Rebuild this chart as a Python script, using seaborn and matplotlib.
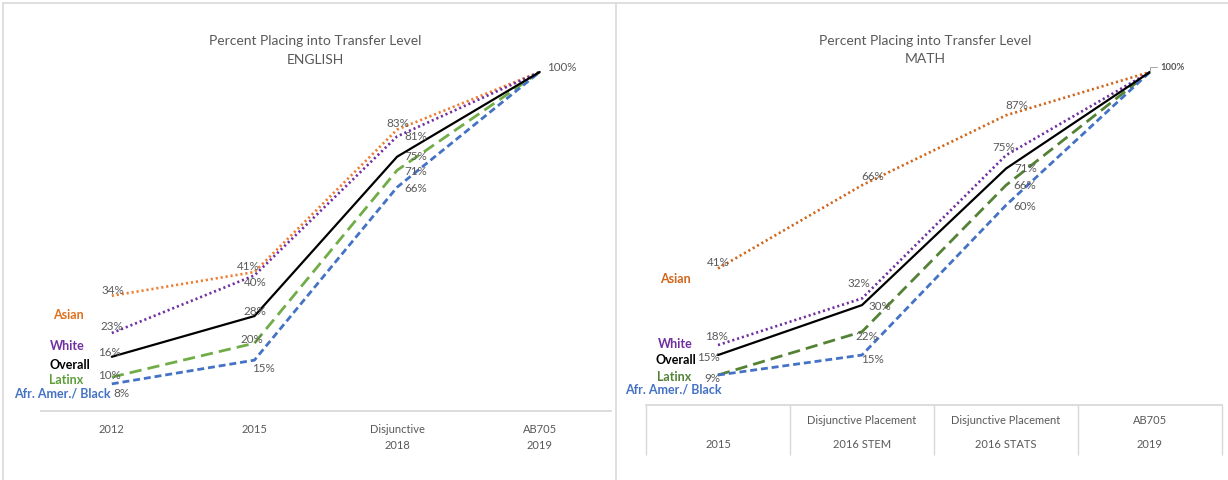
import matplotlib
matplotlib.use("Agg")
import matplotlib.pyplot as plt
from matplotlib.transforms import blended_transform_factory
import seaborn as sns
import pandas as pd

# ---------------- data ----------------
groups = ["Asian", "White", "Overall", "Latinx", "Afr. Amer./ Black"]

english_stages = ["2012", "2015", "Disjunctive\n2018", "AB705\n2019"]
english_asian = [34, 41, 83, 100]
english_white = [23, 40, 81, 100]
english_overall = [16, 28, 75, 100]
english_latinx = [10, 20, 71, 100]
english_black = [8, 15, 66, 100]

math_stages = ["\n2015", "Disjunctive Placement\n2016 STEM",
               "Disjunctive Placement\n2016 STATS", "AB705\n2019"]
math_asian = [41, 66, 87, 100]
math_white = [18, 32, 75, 100]
math_overall = [15, 30, 71, 100]
math_latinx = [9, 22, 66, 100]
math_black = [9, 15, 60, 100]

# ---------------- styling ----------------
W, H = 1228, 480
GRAY_TXT = "#595959"
GRID = "#D9D9D9"
FONT = ["Lato", "DejaVu Sans"]

sns.set_theme(style="white")
plt.rcParams["font.family"] = FONT

left_colors = {"Asian": "#ED7D31", "White": "#7030A0", "Overall": "#000000",
               "Latinx": "#70AD47", "Afr. Amer./ Black": "#4472C4"}
right_colors = {"Asian": "#D0661C", "White": "#7030A0", "Overall": "#000000",
                "Latinx": "#548235", "Afr. Amer./ Black": "#4472C4"}
left_label_colors = {"Asian": "#E0701E", "White": "#7030A0", "Overall": "#000000",
                     "Latinx": "#5E9E3A", "Afr. Amer./ Black": "#4472C4"}
right_label_colors = {"Asian": "#D0661C", "White": "#7030A0", "Overall": "#000000",
                      "Latinx": "#548235", "Afr. Amer./ Black": "#4472C4"}
line_styles = {"Asian": (0, (0.8, 1.1)), "White": (0, (0.8, 1.1)),
               "Overall": "-", "Latinx": (0, (4.4, 2.2)),
               "Afr. Amer./ Black": (0, (2.5, 1.4))}
line_widths = {"Asian": 1.9, "White": 1.9, "Overall": 1.6,
               "Latinx": 2.0, "Afr. Amer./ Black": 2.0}


def px_axes(fig, x0, x1, ytop, ybot):
    """Axes placed from pixel edges (y measured from the top)."""
    return fig.add_axes([x0 / W, (H - ybot) / H, (x1 - x0) / W, (ybot - ytop) / H])


fig = plt.figure(figsize=(W / 100, H / 100), dpi=100)
fig.patch.set_facecolor("white")

# panel frames
fig.add_artist(plt.Line2D([3 / W, 1], [1 - 3 / H, 1 - 3 / H], color=GRID, lw=1.2))
fig.add_artist(plt.Line2D([3 / W, 3 / W], [0, 1 - 3 / H], color=GRID, lw=1.2))
fig.add_artist(plt.Line2D([616 / W, 616 / W], [0, 1 - 3 / H], color=GRID, lw=1.2))


def draw_panel(ax, stages, series, colors):
    xs = list(range(len(stages)))
    for name, vals in series.items():
        df = pd.DataFrame({"stage": xs, "pct": vals})
        sns.lineplot(data=df, x="stage", y="pct", ax=ax, color=colors[name],
                     linestyle=line_styles[name], lw=line_widths[name],
                     dash_capstyle="butt",
                     clip_on=False, zorder=3 if name == "Overall" else 2)
    ax.set_xlim(-0.5, len(stages) - 0.5)
    ax.set_ylim(0, 100)
    ax.set_xlabel("")
    ax.set_ylabel("")
    ax.set_yticks([])
    for s in ["top", "right", "left"]:
        ax.spines[s].set_visible(False)
    ax.spines["bottom"].set_color(GRID)
    ax.spines["bottom"].set_linewidth(1.3)
    ax.patch.set_alpha(0)


def value_labels(ax, series, offsets):
    for name, vals in series.items():
        for i, v in enumerate(vals):
            off = offsets.get((name, i))
            if off is None:
                continue
            dx, dy, ha = off
            ax.annotate(f"{v}%", (i, v), xytext=(dx, dy), textcoords="offset pixels",
                        ha=ha, va="center", fontsize=8.4, color=GRAY_TXT,
                        annotation_clip=False, zorder=5)


# ---------------- ENGLISH ----------------
axL = px_axes(fig, 40.5, 611, 72, 411)
eng = dict(zip(groups, [english_asian, english_white, english_overall,
                        english_latinx, english_black]))
draw_panel(axL, english_stages, eng, left_colors)
axL.set_xticks(range(4))
axL.set_xticklabels(english_stages, fontsize=8, color=GRAY_TXT, linespacing=1.5)
axL.tick_params(axis="x", length=0, pad=9.5)

eng_offsets = {
    ("Asian", 0): (1, 5, "center"), ("White", 0): (0, 7, "center"),
    ("Overall", 0): (-2, 4, "center"), ("Latinx", 0): (-2, 2, "center"),
    ("Afr. Amer./ Black", 0): (10, -10, "center"),
    ("Asian", 1): (-6, 6, "center"), ("White", 1): (1, -7, "center"),
    ("Overall", 1): (0, 5, "center"), ("Latinx", 1): (-3, 4, "center"),
    ("Afr. Amer./ Black", 1): (9, -8, "center"),
    ("Asian", 2): (1, 6, "center"), ("White", 2): (19, 0, "center"),
    ("Overall", 2): (19, 0, "center"), ("Latinx", 2): (19, -1, "center"),
    ("Afr. Amer./ Black", 2): (19, -1, "center"),
    ("Overall", 3): (7, 4, "left"),
}
value_labels(axL, eng, eng_offsets)

fig.text(315 / W, 1 - 41 / H, "Percent Placing into Transfer Level", ha="center",
         va="center", fontsize=10, color=GRAY_TXT)
fig.text(315 / W, 1 - 60 / H, "ENGLISH", ha="center", va="center",
         fontsize=10, color=GRAY_TXT)

left_key_pos = {"Asian": (68, 315), "White": (67, 346), "Overall": (70, 365),
                "Latinx": (66, 380), "Afr. Amer./ Black": (62, 394)}
for name, (x, y) in left_key_pos.items():
    fig.text(x / W, 1 - y / H, name, ha="center", va="center", fontsize=9,
             fontweight="bold", color=left_label_colors[name])

# ---------------- MATH ----------------
axR = px_axes(fig, 646, 1222, 72, 405)
mth = dict(zip(groups, [math_asian, math_white, math_overall,
                        math_latinx, math_black]))
draw_panel(axR, math_stages, mth, right_colors)
axR.set_xticks(range(4))
axR.set_xticklabels(math_stages, fontsize=8, color=GRAY_TXT, linespacing=2.45)
axR.tick_params(axis="x", length=0, pad=7.5)
# category table below the math axis
trans = blended_transform_factory(axR.transData, axR.transAxes)
axR.vlines([-0.5, 0.5, 1.5, 2.5, 3.5], -0.15, 0, transform=trans, color=GRID,
           lw=1.0, clip_on=False)

math_offsets = {
    ("Asian", 0): (0, 6, "center"), ("White", 0): (-2, 9, "center"),
    ("Overall", 0): (-10, -2, "center"), ("Latinx", 0): (-6, -3, "center"),
    ("Asian", 1): (11, 9, "center"), ("White", 1): (-3, 15, "center"),
    ("Overall", 1): (18, -1, "center"), ("Latinx", 1): (5, -5, "center"),
    ("Afr. Amer./ Black", 1): (10, -4, "center"),
    ("Asian", 2): (11, 10, "center"), ("White", 2): (-2, 8, "center"),
    ("Overall", 2): (20, 0, "center"), ("Latinx", 2): (19, 0, "center"),
    ("Afr. Amer./ Black", 2): (19, -1, "center"),
}
value_labels(axR, mth, math_offsets)
axR.annotate(f"{math_overall[3]}%", (3, math_overall[3]), xytext=(10, 5),
             textcoords="offset pixels", ha="left", va="center", fontsize=6.8,
             fontweight="bold", color=GRAY_TXT, annotation_clip=False,
             arrowprops=dict(arrowstyle="-", color="#A6A6A6", lw=0.7,
                             shrinkA=0, shrinkB=0,
                             connectionstyle="angle,angleA=0,angleB=90,rad=0"))

fig.text(925 / W, 1 - 41 / H, "Percent Placing into Transfer Level", ha="center",
         va="center", fontsize=10, color=GRAY_TXT)
fig.text(925 / W, 1 - 59 / H, "MATH", ha="center", va="center",
         fontsize=10, color=GRAY_TXT)

right_key_pos = {"Asian": (675, 279), "White": (675, 344), "Overall": (676, 360),
                 "Latinx": (674, 377), "Afr. Amer./ Black": (673, 390)}
for name, (x, y) in right_key_pos.items():
    fig.text(x / W, 1 - y / H, name, ha="center", va="center", fontsize=9,
             fontweight="bold", color=right_label_colors[name])

fig.savefig("out.png", dpi=100, facecolor="white")
